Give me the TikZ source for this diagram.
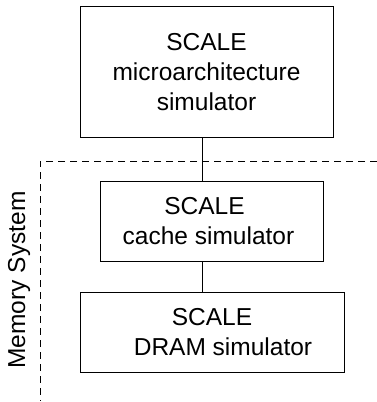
\documentclass[tikz,border=0pt]{standalone}
\usepackage{fontspec}
\setmainfont{Liberation Sans}
\begin{document}
\begin{tikzpicture}[x=1pt,y=-1pt,
  simbox/.style={draw=black, line width=1pt, inner sep=0pt, align=center,
    font=\fontsize{24.5}{30}\selectfont},
  link/.style={draw=black, line width=1pt},
  boundary/.style={draw=black, line width=1pt, dash pattern=on 7pt off 5pt}]
  \useasboundingbox (0,0) rectangle (377,402);

  % simulator blocks
  \node[simbox, minimum width=253pt, minimum height=131pt] (micro) at (206.5,72)
    {SCALE\\microarchitecture\\simulator};
  \node[simbox, minimum width=223pt, minimum height=80pt] (cache) at (211.5,221)
    {SCALE\hspace*{14pt}\\cache simulator\hspace*{6pt}};
  \node[simbox, minimum width=264pt, minimum height=80pt] (dram) at (212,332)
    {SCALE\\\hspace*{22pt}DRAM simulator};

  % vertical links between blocks
  \coordinate (cx) at (202,0);
  \draw[link] (micro.south -| cx) -- (cache.north -| cx);
  \draw[link] (cache.south -| cx) -- (dram.north -| cx);

  % memory system boundary
  \coordinate (mtr) at (377,161);
  \coordinate (mtl) at (40,161);
  \coordinate (mbl) at (40,401);
  \draw[boundary] (mtr) -- (mtl) -- (mbl);
  \node[rotate=90, inner sep=0pt, font=\fontsize{24.5}{30}\selectfont] (memlabel) at (19,280) {Memory System};
\end{tikzpicture}
\end{document}
